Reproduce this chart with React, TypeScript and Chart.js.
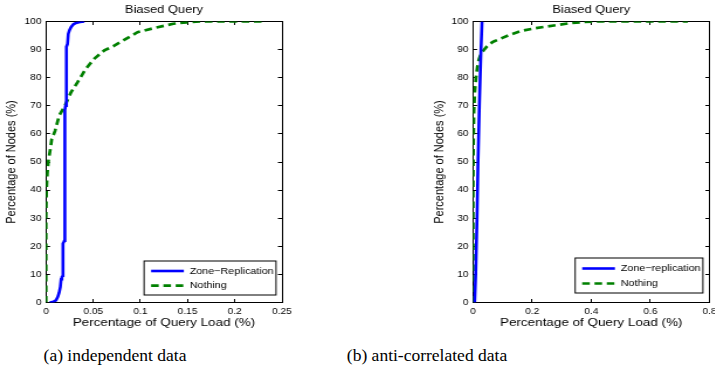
import { useEffect, useRef } from "react";
import { Chart, registerables } from "chart.js";

Chart.register(...registerables);

// ---------------- data ----------------
const chartTitle = "Biased Query";
const xAxisTitle = "Percentage of Query Load (%)";
const yAxisTitle = "Percentage of Nodes (%)";

const yTickValues = [0, 10, 20, 30, 40, 50, 60, 70, 80, 90, 100];
const yTickLabels = ["0", "10", "20", "30", "40", "50", "60", "70", "80", "90", "100"];

const xTickValuesA = [0, 0.05, 0.1, 0.15, 0.2, 0.25];
const xTickLabelsA = ["0", "0.05", "0.1", "0.15", "0.2", "0.25"];
const xTickValuesB = [0, 0.2, 0.4, 0.6, 0.8];
const xTickLabelsB = ["0", "0.2", "0.4", "0.6", "0.8"];

const seriesNamesA = ["Zone\u2212Replication", "Nothing"];
const seriesNamesB = ["Zone\u2212replication", "Nothing"];

// (a) independent data
const zoneA_x = [0.004, 0.008, 0.0106, 0.0125, 0.014, 0.0152, 0.016, 0.0168, 0.0178, 0.018, 0.0188, 0.0195, 0.02, 0.0207, 0.0215, 0.0218, 0.0228, 0.0236, 0.025, 0.0265, 0.029, 0.0318, 0.036, 0.0406];
const zoneA_y = [0, 0.3, 0.8, 2, 3.6, 5.5, 8.3, 9, 9.5, 21, 21.5, 22, 68.5, 70, 72, 91, 92, 95.6, 97, 98, 99, 99.5, 99.8, 100];
const nothingA_x = [0, 0, 0.0005, 0.0014, 0.0024, 0.0046, 0.006, 0.0095, 0.014, 0.02, 0.0265, 0.0335, 0.042, 0.051, 0.0618, 0.0724, 0.0847, 0.097, 0.1137, 0.1349, 0.149, 0.163, 0.19, 0.23];
const nothingA_y = [0, 30, 40, 46, 50, 54.6, 58, 61, 66.5, 70, 74.8, 78.4, 83.1, 86.7, 89.7, 91.4, 93.8, 96.2, 97.6, 99.2, 99.7, 100, 100, 100];

// (b) anti-correlated data
const zoneB_x = [0.0056, 0.009, 0.0135, 0.0169, 0.0214, 0.027, 0.0304];
const zoneB_y = [0, 10, 30, 50, 70, 90, 100];
const nothingB_x = [0, 0, 0.001, 0.003, 0.006, 0.01, 0.015, 0.02, 0.027, 0.036, 0.052, 0.07, 0.091, 0.125, 0.165, 0.21, 0.249, 0.289, 0.328, 0.373, 0.42, 0.55, 0.727];
const nothingB_y = [0, 40, 55, 68, 75, 80, 84, 86.5, 88.5, 89.8, 91.7, 92.9, 93.8, 95.3, 96.7, 97.6, 98.2, 98.8, 99.4, 99.8, 100, 100, 100];

const captionA = "(a) independent data";
const captionB = "(b) anti-correlated data";

// ---------------- styling ----------------
const STRETCH = 1.17;
const FONT = '"Liberation Sans", Arial, Helvetica, sans-serif';
const BLUE = "#0000ff";
const GREEN = "#008000";

const pts = (xs: number[], ys: number[]) => xs.map((x, i) => ({ x, y: ys[i] }));

const boxLegend = {
  id: "boxLegend",
  afterDatasetsDraw(chart: any, _args: any, opts: any) {
    const { ctx, chartArea } = chart;
    const ds = chart.data.datasets;
    ctx.save();
    ctx.font = `${opts.fontSize}px ${FONT}`;
    const textW = Math.max(...ds.map((d: any) => ctx.measureText(d.label).width));
    const padL = 6, lineLen = 28, gap = 5, padR = 2;
    const w = padL + lineLen + gap + textW + padR;
    const h = opts.height;
    const right = chartArea.right - opts.right;
    const bottom = chartArea.bottom - opts.bottom;
    const left = right - w;
    const top = bottom - h;
    ctx.fillStyle = "#ffffff";
    ctx.fillRect(left, top, w, h);
    ctx.strokeStyle = "#000000";
    ctx.lineWidth = 1;
    ctx.strokeRect(left, top, w, h);
    ds.forEach((d: any, i: number) => {
      const y = top + opts.rows[i];
      ctx.beginPath();
      ctx.strokeStyle = d.borderColor;
      ctx.lineWidth = d.borderWidth;
      ctx.setLineDash(d.borderDash || []);
      ctx.moveTo(left + padL, y);
      ctx.lineTo(left + padL + lineLen, y);
      ctx.stroke();
      ctx.setLineDash([]);
      ctx.fillStyle = "#000000";
      ctx.textBaseline = "middle";
      ctx.textAlign = "left";
      ctx.fillText(d.label, left + padL + lineLen + gap, y);
    });
    ctx.restore();
  },
};

interface PanelSpec {
  names: string[];
  zone: { x: number; y: number }[];
  nothing: { x: number; y: number }[];
  xMax: number;
  xVals: number[];
  xLabels: string[];
  yAxisWidth: number;
  yTitlePad: number;
  padRight: number;
  legend: any;
}

function makeConfig(p: PanelSpec): any {
  const tickFont = { family: FONT, size: 8.7 };
  const gridOpts = { drawOnChartArea: false, tickLength: -3.5, color: "#000", lineWidth: 1 };
  const borderOpts = { display: true, color: "#000", width: 1 };
  const setX = (vals: number[]) => (s: any) => {
    s.ticks = vals.map((v) => ({ value: v }));
  };
  return {
    type: "scatter",
    data: {
      datasets: [
        {
          label: p.names[0],
          data: p.zone,
          showLine: true,
          borderColor: BLUE,
          backgroundColor: BLUE,
          borderWidth: 2.6,
          pointRadius: 0,
          tension: 0,
          xAxisID: "x",
          yAxisID: "y",
        },
        {
          label: p.names[1],
          data: p.nothing,
          showLine: true,
          borderColor: GREEN,
          backgroundColor: GREEN,
          borderWidth: 2.7,
          borderDash: [6.5, 4],
          pointRadius: 0,
          tension: 0,
          xAxisID: "x",
          yAxisID: "y",
        },
      ],
    },
    options: {
      responsive: false,
      animation: false,
      devicePixelRatio: 1,
      layout: { padding: { left: 0, right: p.padRight, top: 0, bottom: 0 } },
      plugins: {
        legend: { display: false },
        tooltip: { enabled: false },
        title: {
          display: true,
          text: chartTitle,
          fullSize: false,
          color: "#000",
          font: { family: FONT, size: 11, weight: "normal" },
          padding: { top: 3.5, bottom: 4.8 },
        },
        boxLegend: p.legend,
      },
      scales: {
        x: {
          type: "linear",
          position: "bottom",
          min: 0,
          max: p.xMax,
          afterBuildTicks: setX(p.xVals),
          ticks: {
            callback: (_v: any, i: number) => p.xLabels[i],
            font: tickFont,
            color: "#000",
            padding: 7.5,
            autoSkip: false,
            maxRotation: 0,
          },
          grid: gridOpts,
          border: borderOpts,
          title: {
            display: true,
            text: xAxisTitle,
            color: "#000",
            font: { family: FONT, size: 11.5 },
            padding: { top: 0, bottom: 5.6 },
          },
          afterFit: (s: any) => {
            s.height = 32.5;
            s.paddingLeft = 0;
            s.paddingRight = 0;
          },
        },
        x2: {
          type: "linear",
          position: "top",
          min: 0,
          max: p.xMax,
          afterBuildTicks: setX(p.xVals),
          ticks: { display: false },
          grid: gridOpts,
          border: borderOpts,
          afterFit: (s: any) => {
            s.height = 0;
            s.paddingLeft = 0;
            s.paddingRight = 0;
          },
        },
        y: {
          type: "linear",
          position: "left",
          min: 0,
          max: 100,
          afterBuildTicks: setX(yTickValues),
          ticks: {
            callback: (_v: any, i: number) => yTickLabels[i],
            font: tickFont,
            color: "#000",
            padding: 7.3,
            autoSkip: false,
          },
          grid: gridOpts,
          border: borderOpts,
          title: {
            display: true,
            text: yAxisTitle,
            color: "#000",
            font: { family: FONT, size: 11 },
            padding: { top: p.yTitlePad, bottom: 0 },
          },
          afterFit: (s: any) => {
            s.width = p.yAxisWidth;
            s.paddingTop = 0;
            s.paddingBottom = 0;
          },
        },
        y2: {
          type: "linear",
          position: "right",
          min: 0,
          max: 100,
          afterBuildTicks: setX(yTickValues),
          ticks: { display: false },
          grid: gridOpts,
          border: borderOpts,
          afterFit: (s: any) => {
            s.width = 0;
            s.paddingTop = 0;
            s.paddingBottom = 0;
          },
        },
      },
    },
    plugins: [boxLegend],
  };
}

function Panel({ spec, width, height, left }: { spec: PanelSpec; width: number; height: number; left: number }) {
  const ref = useRef<HTMLCanvasElement | null>(null);
  useEffect(() => {
    if (!ref.current) return;
    const chart = new Chart(ref.current, makeConfig(spec));
    return () => chart.destroy();
  }, []);
  return (
    <canvas
      ref={ref}
      width={width}
      height={height}
      style={{
        position: "absolute",
        left,
        top: 0,
        width,
        height,
        transform: `scaleX(${STRETCH})`,
        transformOrigin: "0 0",
      }}
    />
  );
}

const specA: PanelSpec = {
  names: seriesNamesA,
  zone: pts(zoneA_x, zoneA_y),
  nothing: pts(nothingA_x, nothingA_y),
  xMax: 0.25,
  xVals: xTickValuesA,
  xLabels: xTickLabelsA,
  yAxisWidth: 39.3,
  yTitlePad: 3.7,
  padRight: 15,
  legend: { fontSize: 9.2, height: 34, right: 5.1, bottom: 7.5, rows: [10, 24.7] },
};

const specB: PanelSpec = {
  names: seriesNamesB,
  zone: pts(zoneB_x, zoneB_y),
  nothing: pts(nothingB_x, nothingB_y),
  xMax: 0.8,
  xVals: xTickValuesB,
  xLabels: xTickLabelsB,
  yAxisWidth: 62.4,
  yTitlePad: 27.6,
  padRight: 4.5,
  legend: { fontSize: 9.2, height: 35, right: 5.6, bottom: 9.5, rows: [10.5, 25.5] },
};

const captionStyle: any = {
  position: "absolute",
  top: 345,
  fontFamily: '"Liberation Serif", "Times New Roman", serif',
  fontSize: 17.5,
  lineHeight: "20px",
  color: "#000",
  textAlign: "center",
  whiteSpace: "nowrap",
};

export default function App() {
  return (
    <div
      style={{
        position: "absolute",
        left: 0,
        top: 0,
        width: 715,
        height: 379,
        overflow: "hidden",
        background: "#fff",
      }}
    >
      <Panel spec={specA} width={256} height={335} left={0} />
      <Panel spec={specB} width={269} height={335} left={400} />
      <div style={{ ...captionStyle, left: 15, width: 200 }}>{captionA}</div>
      <div style={{ ...captionStyle, left: 327, width: 200 }}>{captionB}</div>
    </div>
  );
}
